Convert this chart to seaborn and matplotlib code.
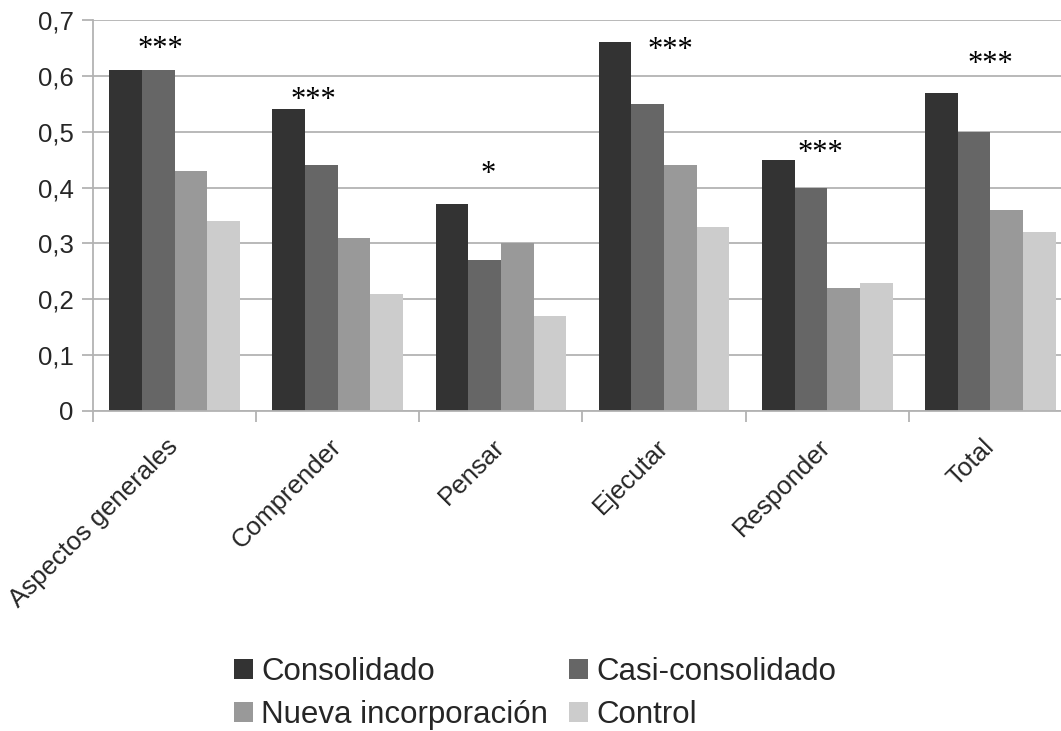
import matplotlib
matplotlib.use("Agg")
import matplotlib.pyplot as plt
import seaborn as sns
import pandas as pd

categories = ["Aspectos generales", "Comprender", "Pensar", "Ejecutar", "Responder", "Total"]
groups = ["Consolidado", "Casi-consolidado", "Nueva incorporación", "Control"]
consolidado = [0.61, 0.54, 0.37, 0.66, 0.45, 0.57]
casi_consolidado = [0.61, 0.44, 0.27, 0.55, 0.40, 0.50]
nueva_incorporacion = [0.43, 0.31, 0.30, 0.44, 0.22, 0.36]
control = [0.34, 0.21, 0.17, 0.33, 0.23, 0.32]
significance = ["***", "***", "*", "***", "***", "***"]
yticks = [0, 0.1, 0.2, 0.3, 0.4, 0.5, 0.6, 0.7]
ytick_labels = ["0", "0,1", "0,2", "0,3", "0,4", "0,5", "0,6", "0,7"]

colors = ["#333333", "#666666", "#999999", "#cccccc"]

rows = []
for g, vals in zip(groups, [consolidado, casi_consolidado, nueva_incorporacion, control]):
    for c, v in zip(categories, vals):
        rows.append({"categoria": c, "grupo": g, "valor": v})
df = pd.DataFrame(rows)

sns.set_style("white")
plt.rcParams["font.family"] = ["Liberation Sans", "DejaVu Sans"]

fig = plt.figure(figsize=(10.61, 7.31), dpi=100)
ax = fig.add_axes([93 / 1061, 1 - 411 / 731, 979 / 1061, 391 / 731])

sns.barplot(data=df, x="categoria", y="valor", hue="grupo", order=categories,
            hue_order=groups, palette=colors, errorbar=None, width=0.8,
            saturation=1, linewidth=0, ax=ax)

ax.set_xlim(-0.5, len(categories) - 0.5)
ax.set_ylim(0, 0.7)
ax.set_yticks(yticks)
ax.set_yticklabels(ytick_labels, fontsize=18.5)
ax.yaxis.grid(True, color="#b3b3b3", linewidth=1.3)
ax.set_axisbelow(True)
ax.set_xlabel("")
ax.set_ylabel("")

for side in ["top", "right"]:
    ax.spines[side].set_visible(False)
for side in ["left", "bottom"]:
    ax.spines[side].set_color("#b3b3b3")
    ax.spines[side].set_linewidth(1.3)

ax.tick_params(axis="y", which="major", length=8, width=1.3, color="#b3b3b3",
               left=True, pad=6)
ax.set_xticks(range(len(categories)))
ax.set_xticklabels(categories, fontsize=18.6, rotation=45, ha="right",
                   va="center", rotation_mode="anchor")
ax.tick_params(axis="x", which="major", length=0, pad=23)
ax.set_xticks([i - 0.5 for i in range(len(categories) + 1)], minor=True)
ax.tick_params(axis="x", which="minor", length=8, width=1.3, color="#b3b3b3",
               bottom=True)

# significance marks above each group
star_x = [-0.09, 0.85, 1.92, 3.04, 3.96, 5.0]
star_y = [0.647, 0.556, 0.424, 0.646, 0.461, 0.621]
for x, y, s in zip(star_x, star_y, significance):
    ax.text(x, y, s, ha="center", va="center", fontsize=22,
            family="Liberation Serif", color="#000000")

handles, labels = ax.get_legend_handles_labels()
ax.get_legend().remove()
order = [0, 2, 1, 3]
fig.legend([handles[i] for i in order], [labels[i] for i in order], ncol=2,
           loc="upper left", bbox_to_anchor=(234 / 1061, 1 - 657 / 731),
           frameon=False, fontsize=22.5, handlelength=0.61, handleheight=0.61,
           handletextpad=0.26, columnspacing=0.67, labelspacing=0.41,
           borderpad=0, borderaxespad=0)

fig.savefig("out.png", dpi=100)
